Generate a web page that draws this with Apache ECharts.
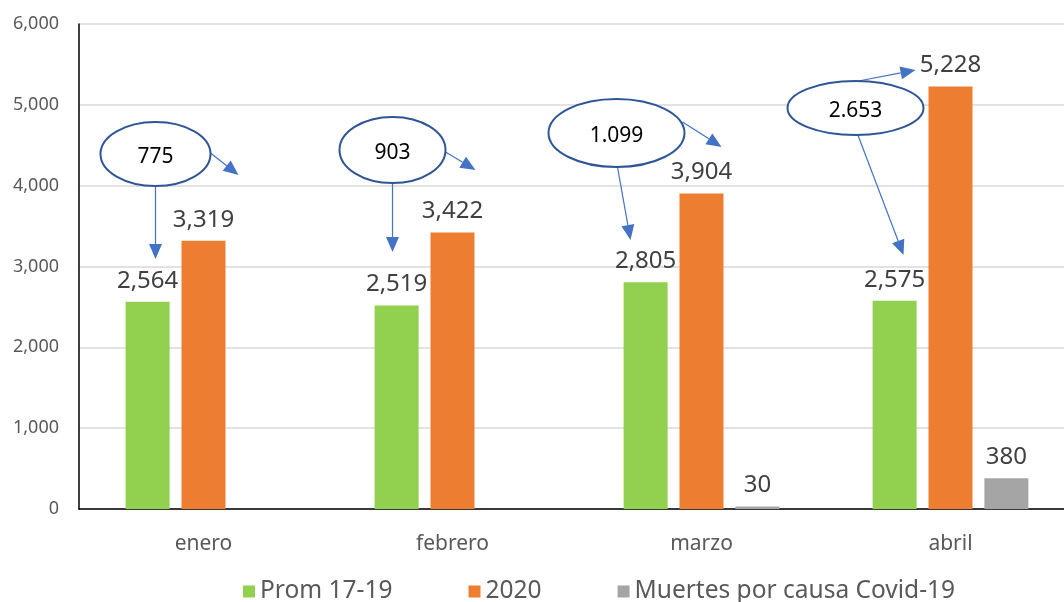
<!DOCTYPE html>
<html>
<head>
<meta charset="utf-8">
<script src="https://cdn.jsdelivr.net/npm/echarts@6/dist/echarts.min.js"></script>
<style>html,body{margin:0;padding:0;background:#fff;overflow:hidden;width:1064px;height:602px}#c{width:1075px;height:602px}</style>
</head>
<body>
<div id="c"></div>
<script>
const categories = ['enero', 'febrero', 'marzo', 'abril'];
const seriesNames = ['Prom 17-19', '2020', 'Muertes por causa Covid-19'];
const prom1719 = [2564, 2519, 2805, 2575];
const y2020 = [3319, 3422, 3904, 5228];
const covid = [null, null, 30, 380];
const diffLabels = ['775', '903', '1.099', '2.653'];
const yTicks = [0, 1000, 2000, 3000, 4000, 5000, 6000];

// annotation geometry: dx = pixel offset from category centre, v = value on y axis
const annotations = [
  {cat: 0, text: diffLabels[0], e: {dx: -48, v: 4392, rx: 55, ry: 32},
   arrows: [[-48, 3996, -48, 3093], [7, 4404, 35, 4132]]},
  {cat: 1, text: diffLabels[1], e: {dx: -60, v: 4441, rx: 53, ry: 33},
   arrows: [[-60, 4033, -60, 3180], [-7, 4417, 23, 4194]]},
  {cat: 2, text: diffLabels[2], e: {dx: -85, v: 4652, rx: 68, ry: 34},
   arrows: [[-84, 4231, -71, 3328], [-19, 4788, 20, 4479]]},
  {cat: 3, text: diffLabels[3], e: {dx: -95, v: 4961, rx: 68, ry: 27},
   arrows: [[-92, 5295, -35, 5431], [-93, 4639, -47, 3142]]}
];

const fmt = v => Number(v).toLocaleString('en-US');
const FONT = 'Noto Sans';
const chart = echarts.init(document.getElementById('c'));

const labelCfg = {
  show: true, position: 'top', distance: 9,
  color: '#404040', fontSize: 24, fontFamily: FONT,
  formatter: p => fmt(p.value)
};

chart.setOption({
  animation: false,
  textStyle: {fontFamily: FONT},
  grid: {left: 79, top: 24, right: 0, height: 485, containLabel: false},
  legend: {
    left: 238, top: 574, itemGap: 76, itemWidth: 12, itemHeight: 12,
    icon: 'rect',
    textStyle: {color: '#595959', fontSize: 24.5, fontFamily: FONT},
    data: seriesNames
  },
  xAxis: {
    type: 'category', data: categories,
    axisLine: {show: true, lineStyle: {color: '#000', width: 1.5}},
    axisTick: {show: false},
    axisLabel: {color: '#595959', fontSize: 21, margin: 25, fontFamily: FONT}
  },
  yAxis: {
    type: 'value', min: yTicks[0], max: yTicks[yTicks.length - 1], interval: 1000,
    axisLine: {show: true, lineStyle: {color: '#000', width: 1.5}},
    axisTick: {show: false},
    splitLine: {lineStyle: {color: '#d9d9d9', width: 1.5}},
    axisLabel: {color: '#595959', fontSize: 18, margin: 20, fontFamily: FONT, formatter: fmt}
  },
  series: [
    {name: seriesNames[0], type: 'bar', data: prom1719, barWidth: 44, barGap: '27%',
     itemStyle: {color: '#92D050'}, label: labelCfg},
    {name: seriesNames[1], type: 'bar', data: y2020, barWidth: 44, barGap: '27%',
     itemStyle: {color: '#ED7D31'}, label: labelCfg},
    {name: seriesNames[2], type: 'bar', data: covid, barWidth: 44, barGap: '27%',
     itemStyle: {color: '#A5A5A5'}, label: labelCfg}
  ]
});

function pt(cat, dx, v) {
  const c = chart.convertToPixel({gridIndex: 0}, [cat, 0]);
  const p = chart.convertToPixel({gridIndex: 0}, [cat, v]);
  return [c[0] + dx, p[1]];
}

const g = [];
const blue = '#4472C4';
annotations.forEach(a => {
  a.arrows.forEach(ar => {
    const s = pt(a.cat, ar[0], ar[1]);
    const e = pt(a.cat, ar[2], ar[3]);
    const ang = Math.atan2(e[1] - s[1], e[0] - s[0]);
    const L = 15, W = 6.5;
    const bx = e[0] - L * Math.cos(ang), by = e[1] - L * Math.sin(ang);
    g.push({type: 'line', z: 10, shape: {x1: s[0], y1: s[1], x2: bx, y2: by},
            style: {stroke: blue, lineWidth: 1.2}});
    g.push({type: 'polygon', z: 10, shape: {points: [
      [e[0], e[1]],
      [bx + W * Math.sin(ang), by - W * Math.cos(ang)],
      [bx - W * Math.sin(ang), by + W * Math.cos(ang)]
    ]}, style: {fill: blue}});
  });
  const c = pt(a.cat, a.e.dx, a.e.v);
  g.push({type: 'ellipse', z: 11, shape: {cx: c[0], cy: c[1], rx: a.e.rx, ry: a.e.ry},
          style: {fill: '#fff', stroke: '#2F5597', lineWidth: 2}});
  g.push({type: 'text', z: 12, x: c[0], y: c[1] + 3,
          style: {text: a.text, fill: '#000', fontSize: 21, fontFamily: FONT,
                  align: 'center', verticalAlign: 'middle'}});
});
chart.setOption({graphic: g});
</script>
</body>
</html>
